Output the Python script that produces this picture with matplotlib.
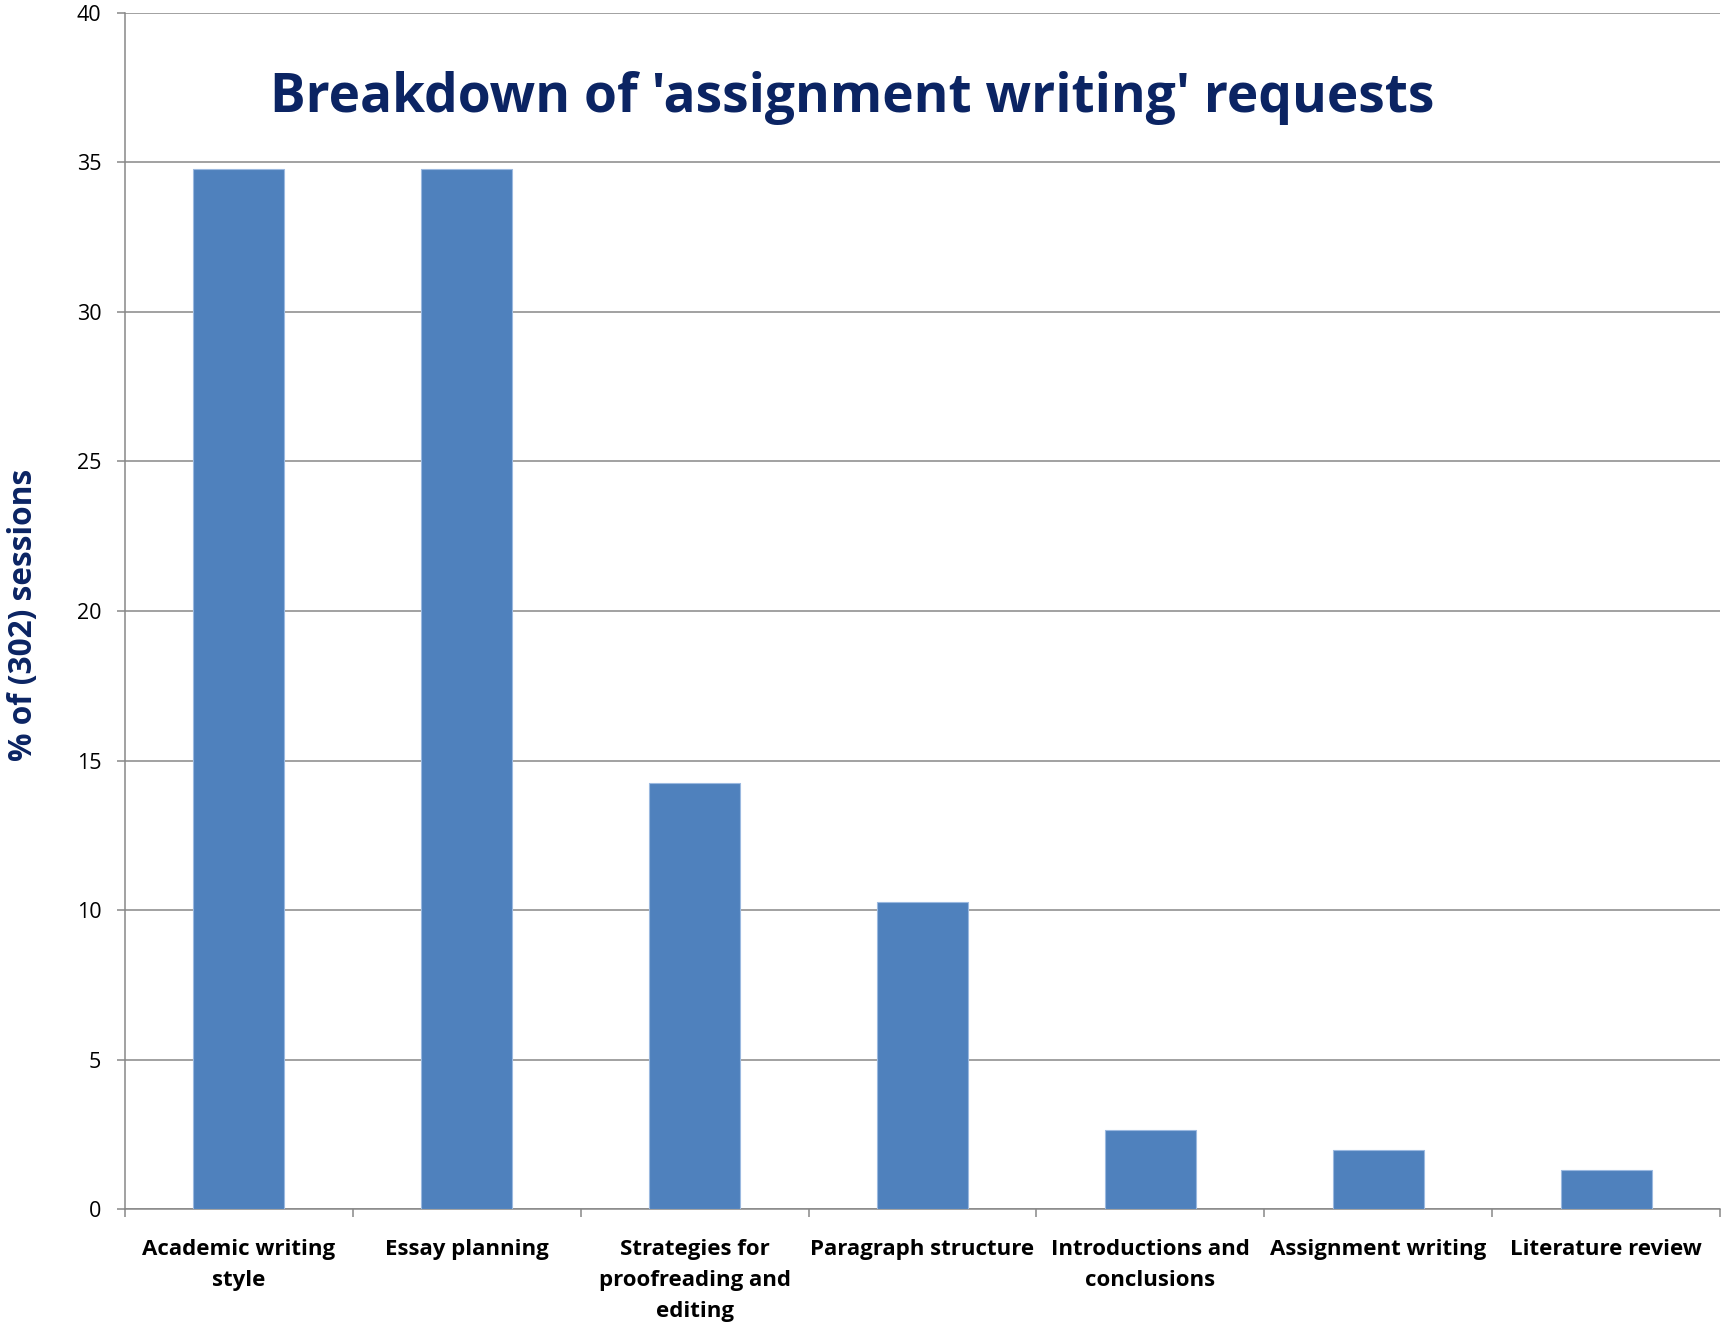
import numpy as np
import matplotlib.pyplot as plt
import matplotlib.transforms as mtransforms
from matplotlib.ticker import FixedLocator

categories = ['Academic writing\nstyle', 'Essay planning', 'Strategies for\nproofreading and\nediting',
              'Paragraph structure', 'Introductions and\nconclusions', 'Assignment writing',
              'Literature review']
percent = [34.77, 34.77, 14.24, 10.26, 2.65, 1.99, 1.32]

plt.rcParams['font.family'] = ['Open Sans', 'DejaVu Sans']

navy = '#0B2463'
grey = '#878787'

fig = plt.figure(figsize=(17.23, 13.26), dpi=100)
ax = fig.add_axes([0.0725, 0.0879, 0.9258, 0.9025])

x = np.arange(len(categories))
ax.bar(x, percent, width=0.4, color='#4F81BD', edgecolor='#9BB9E0', linewidth=0.8, zorder=3)

ax.set_xlim(-0.5, len(categories) - 0.5)
ax.set_ylim(0, 40)
ax.set_yticks(np.arange(0, 41, 5))
ax.yaxis.grid(True, color=grey, linewidth=1.1, zorder=0)

for side in ['top', 'right']:
    ax.spines[side].set_visible(False)
for side in ['left', 'bottom']:
    ax.spines[side].set_color(grey)
    ax.spines[side].set_linewidth(1.1)

# category names drawn as text so the wrapped lines get wider spacing
ax.set_xticks(x)
ax.set_xticklabels([])
ax.xaxis.set_minor_locator(FixedLocator(np.arange(-0.5, len(categories), 1.0)))
ax.tick_params(axis='x', which='major', length=0)
ax.tick_params(axis='x', which='minor', length=6, width=1.1, color=grey, direction='out')
ax.tick_params(axis='y', length=6, width=1.1, color=grey, direction='out', labelsize=15.5, pad=11)

trans = mtransforms.blended_transform_factory(ax.transData, ax.transAxes)
for xi, name in zip(x, categories):
    ax.text(xi, -0.0248, name, transform=trans, ha='center', va='top', multialignment='center',
            fontsize=16, fontweight='bold', linespacing=1.61)

fig.text(0.4945, 0.9155, "Breakdown of 'assignment writing' requests", fontsize=38.3,
         fontweight='bold', color=navy, ha='center', va='baseline')
fig.text(0.0135, 0.536, '% of (302) sessions', fontsize=22.8, fontweight='bold', color=navy,
         rotation=90, ha='center', va='center')

fig.savefig('out.png', dpi=100)
